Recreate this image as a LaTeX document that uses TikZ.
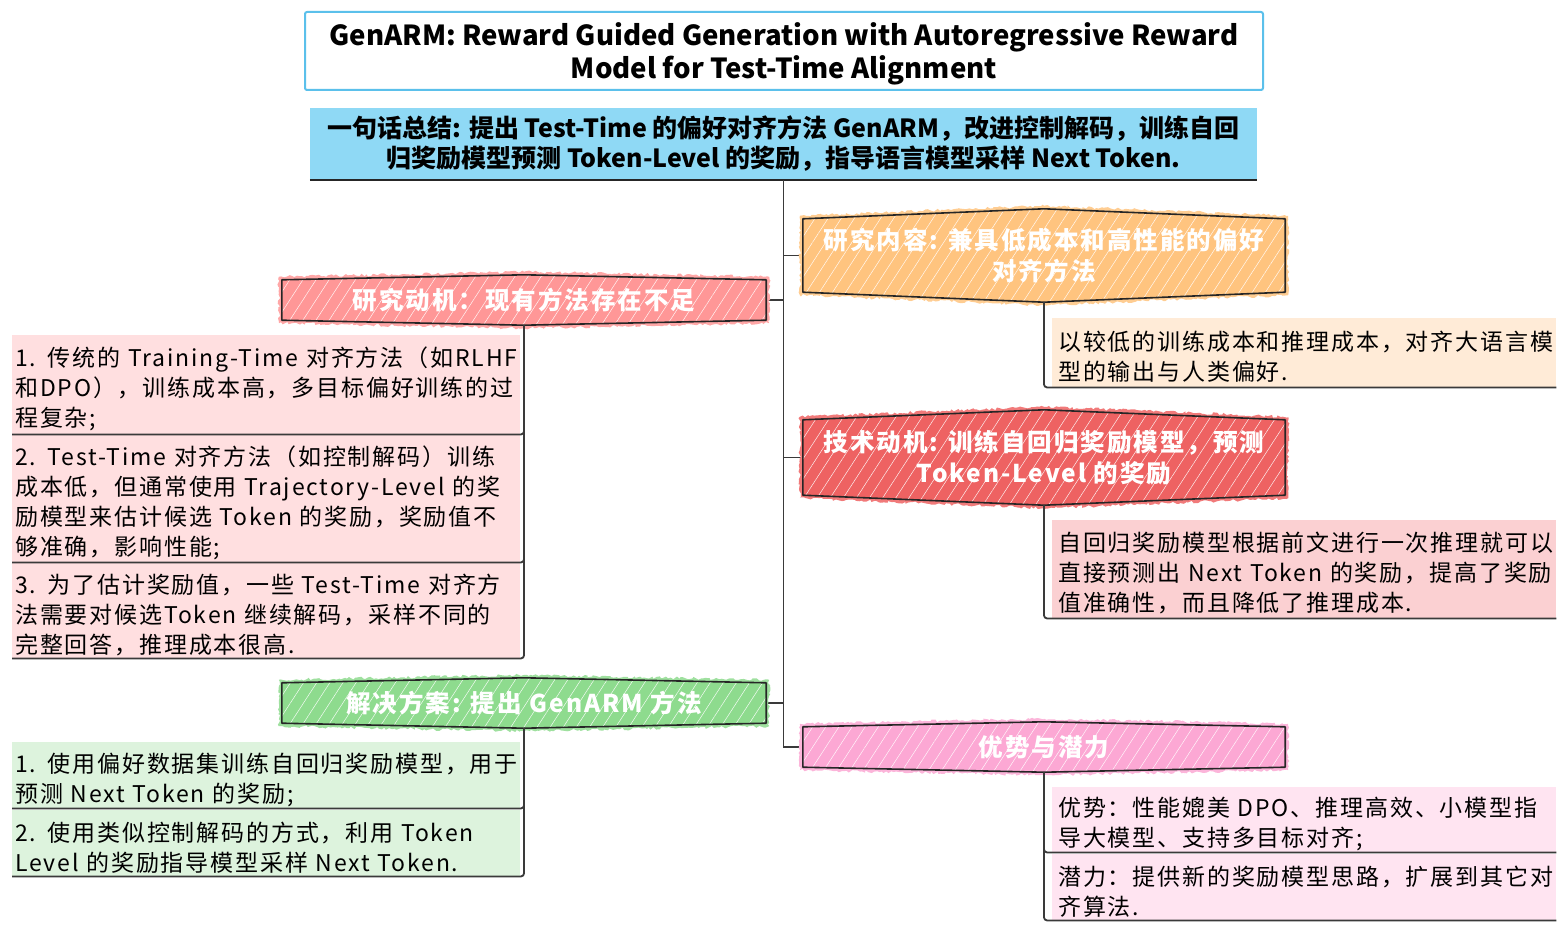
\documentclass[tikz,border=0pt]{standalone}
\usepackage{fontspec}
\setmainfont{Noto Sans CJK SC}
\newfontfamily\bodyfont[LetterSpace=8]{Noto Sans CJK SC}
\newfontfamily\headfont[LetterSpace=8]{Noto Sans CJK SC}
\usetikzlibrary{calc,patterns.meta,decorations.pathmorphing}
\definecolor{titleblue}{HTML}{5BC0EB}
\definecolor{sumblue}{HTML}{8FD9F5}
\definecolor{hexorange}{HTML}{FFC47F}
\definecolor{hexred}{HTML}{FF9797}
\definecolor{hextech}{HTML}{EE6262}
\definecolor{hexgreen}{HTML}{8EDB8E}
\definecolor{hexpink}{HTML}{FCA8D4}
\definecolor{lightred}{HTML}{FFDFE0}
\definecolor{lightorange}{HTML}{FFEBD7}
\definecolor{lighttech}{HTML}{FBD0D2}
\definecolor{lightgreen}{HTML}{DDF3DD}
\definecolor{lightpink}{HTML}{FFE4F1}
\definecolor{linegray}{HTML}{3A3A3A}
\newcommand\hexp[4]{%
  \path[#4] ($(#1.north west)+(-#3pt,-#2pt+#3pt)$) -- ($(#1.north)+(0pt,#3pt)$) -- ($(#1.north east)+(#3pt,-#2pt+#3pt)$) -- ($(#1.south east)+(#3pt,#2pt-#3pt)$) -- ($(#1.south)+(0pt,-#3pt)$) -- ($(#1.south west)+(-#3pt,#2pt-#3pt)$) -- cycle;}
\newcommand\hexall[3]{% name, colour, bulge
  \hexp{#1}{#3}{3}{fill=#2!85, decorate, decoration={random steps,segment length=2.5pt,amplitude=1.4pt}}
  \hexp{#1}{#3}{0}{fill=#2}
  \hexp{#1}{#3}{0}{pattern={Lines[angle=57,distance=11pt,line width=0.5pt]}, pattern color=white!90!#2}
  \hexp{#1}{#3}{0}{draw=black!85, line width=1.6pt, line join=round}}
\tikzset{
  conn/.style={draw=linegray, line width=1.2pt},
  boxline/.style={draw=linegray, line width=1.8pt, rounded corners=3pt},
  hexbox/.style={inner sep=0pt, draw=none},
  hexlabel/.style={font=\headfont\bfseries\fontsize{24.5}{31}\selectfont, text=white, align=center, inner sep=0pt},
  textbox/.style={anchor=north west, font=\bodyfont\fontsize{23}{30}\selectfont, align=left, inner ysep=0pt,
    execute at begin node={\rule{0pt}{28pt}}},
  leftbox/.style={textbox, inner xsep=3pt, text width=502pt, minimum width=508pt},
  rightbox/.style={textbox, inner xsep=6pt, text width=492pt, minimum width=504pt},
}
\begin{document}
\begin{tikzpicture}[x=1pt,y=-1pt]
\pgfmathsetseed{7}
\useasboundingbox (0,0) rectangle (1566,928);
% title
\node[draw=titleblue, line width=2pt, rounded corners=2pt, minimum width=958pt, minimum height=78pt, inner sep=0pt] (title) at (784,51) {};
\node[font=\bfseries\fontsize{27.6}{33}\selectfont, align=center, inner sep=0pt] (titlet) at ($(title)+(0,3)$)
  {GenARM: Reward Guided Generation with Autoregressive Reward\\Model for Test-Time Alignment};
% summary
\node[fill=sumblue, minimum width=947pt, minimum height=72pt, inner sep=0pt,
  font=\bfseries\fontsize{25}{30}\selectfont, align=center] (sum) at (783.5,144)
  {一句话总结: 提出 Test-Time 的偏好对齐方法 GenARM，改进控制解码，训练自回\\归奖励模型预测 Token-Level 的奖励，指导语言模型采样 Next Token.};
\draw[line width=2pt, black!85] (sum.south west) -- (sum.south east);
% hexagon placeholders
\node[hexbox, minimum width=484pt, minimum height=50pt] (hr) at (524,300) {};
\node[hexbox, minimum width=482pt, minimum height=93pt] (ho) at (1044,255.5) {};
\node[hexbox, minimum width=482pt, minimum height=95pt] (ht) at (1044,457.5) {};
\node[hexbox, minimum width=484pt, minimum height=50pt] (hg) at (524,703) {};
\node[hexbox, minimum width=482pt, minimum height=50pt] (hp) at (1044,747) {};
% trunk and branches
\draw[conn] (sum.south) -- (sum.south |- hp.west) -- (hp.west);
\draw[conn] (sum.south |- ho.west) -- (ho.west);
\draw[conn] (sum.south |- ht.west) -- (ht.west);
\draw[conn] (sum.south |- hr.east) -- (hr.east);
\draw[conn] (sum.south |- hg.east) -- (hg.east);
% hexagons
\hexall{hr}{hexred}{5}
\hexall{ho}{hexorange}{10}
\hexall{ht}{hextech}{10}
\hexall{hg}{hexgreen}{5}
\hexall{hp}{hexpink}{5}
\node[hexlabel] (hrt) at (hr) {研究动机：现有方法存在不足};
\node[hexlabel] (hot) at (ho) {研究内容: 兼具低成本和高性能的偏好\\对齐方法};
\node[hexlabel] (htt) at (ht) {技术动机: 训练自回归奖励模型，预测\\Token-Level 的奖励};
\node[hexlabel] (hgt) at (hg) {解决方案: 提出 GenARM 方法};
\node[hexlabel] (hpt) at (hp) {优势与潜力};
% left red boxes
\node[leftbox, fill=lightred, minimum height=99pt] (r1) at (12,335)
  {1. 传统的 Training-Time 对齐方法（如RLHF\\和DPO），训练成本高，多目标偏好训练的过\\程复杂;};
\node[leftbox, fill=lightred, minimum height=127pt] (r2) at (12,435)
  {2. Test-Time 对齐方法（如控制解码）训练\\成本低，但通常使用 Trajectory-Level 的奖\\励模型来估计候选 Token 的奖励，奖励值不\\够准确，影响性能;};
\node[leftbox, fill=lightred, minimum height=95pt] (r3) at (12,563)
  {3. 为了估计奖励值，一些 Test-Time 对齐方\\法需要对候选Token 继续解码，采样不同的\\完整回答，推理成本很高.};
\draw[boxline] (hr.south) |- (r1.south west);
\draw[boxline] (hr.south) |- (r2.south west);
\draw[boxline] (hr.south) |- (r3.south west);
% orange box
\node[rightbox, fill=lightorange, minimum height=69pt] (o1) at (1052,318)
  {以较低的训练成本和推理成本，对齐大语言模\\型的输出与人类偏好.};
\draw[boxline] (ho.south) |- (o1.south east);
% tech box
\node[rightbox, fill=lighttech, minimum height=98pt] (t1) at (1052,520)
  {自回归奖励模型根据前文进行一次推理就可以\\直接预测出 Next Token 的奖励，提高了奖励\\值准确性，而且降低了推理成本.};
\draw[boxline] (ht.south) |- (t1.south east);
% green boxes
\node[leftbox, fill=lightgreen, minimum height=66pt] (g1) at (12,742)
  {1. 使用偏好数据集训练自回归奖励模型，用于\\预测 Next Token 的奖励;};
\node[leftbox, fill=lightgreen, minimum height=66pt] (g2) at (12,810)
  {2. 使用类似控制解码的方式，利用 Token\\Level 的奖励指导模型采样 Next Token.};
\draw[boxline] (hg.south) |- (g1.south west);
\draw[boxline] (hg.south) |- (g2.south west);
% pink boxes
\node[rightbox, fill=lightpink, minimum height=65pt] (p1) at (1052,787)
  {优势：性能媲美 DPO、推理高效、小模型指\\导大模型、支持多目标对齐;};
\node[rightbox, fill=lightpink, minimum height=66pt] (p2) at (1052,854)
  {潜力：提供新的奖励模型思路，扩展到其它对\\齐算法.};
\draw[boxline] (hp.south) |- (p1.south east);
\draw[boxline] (hp.south) |- (p2.south east);
\end{tikzpicture}
\end{document}
